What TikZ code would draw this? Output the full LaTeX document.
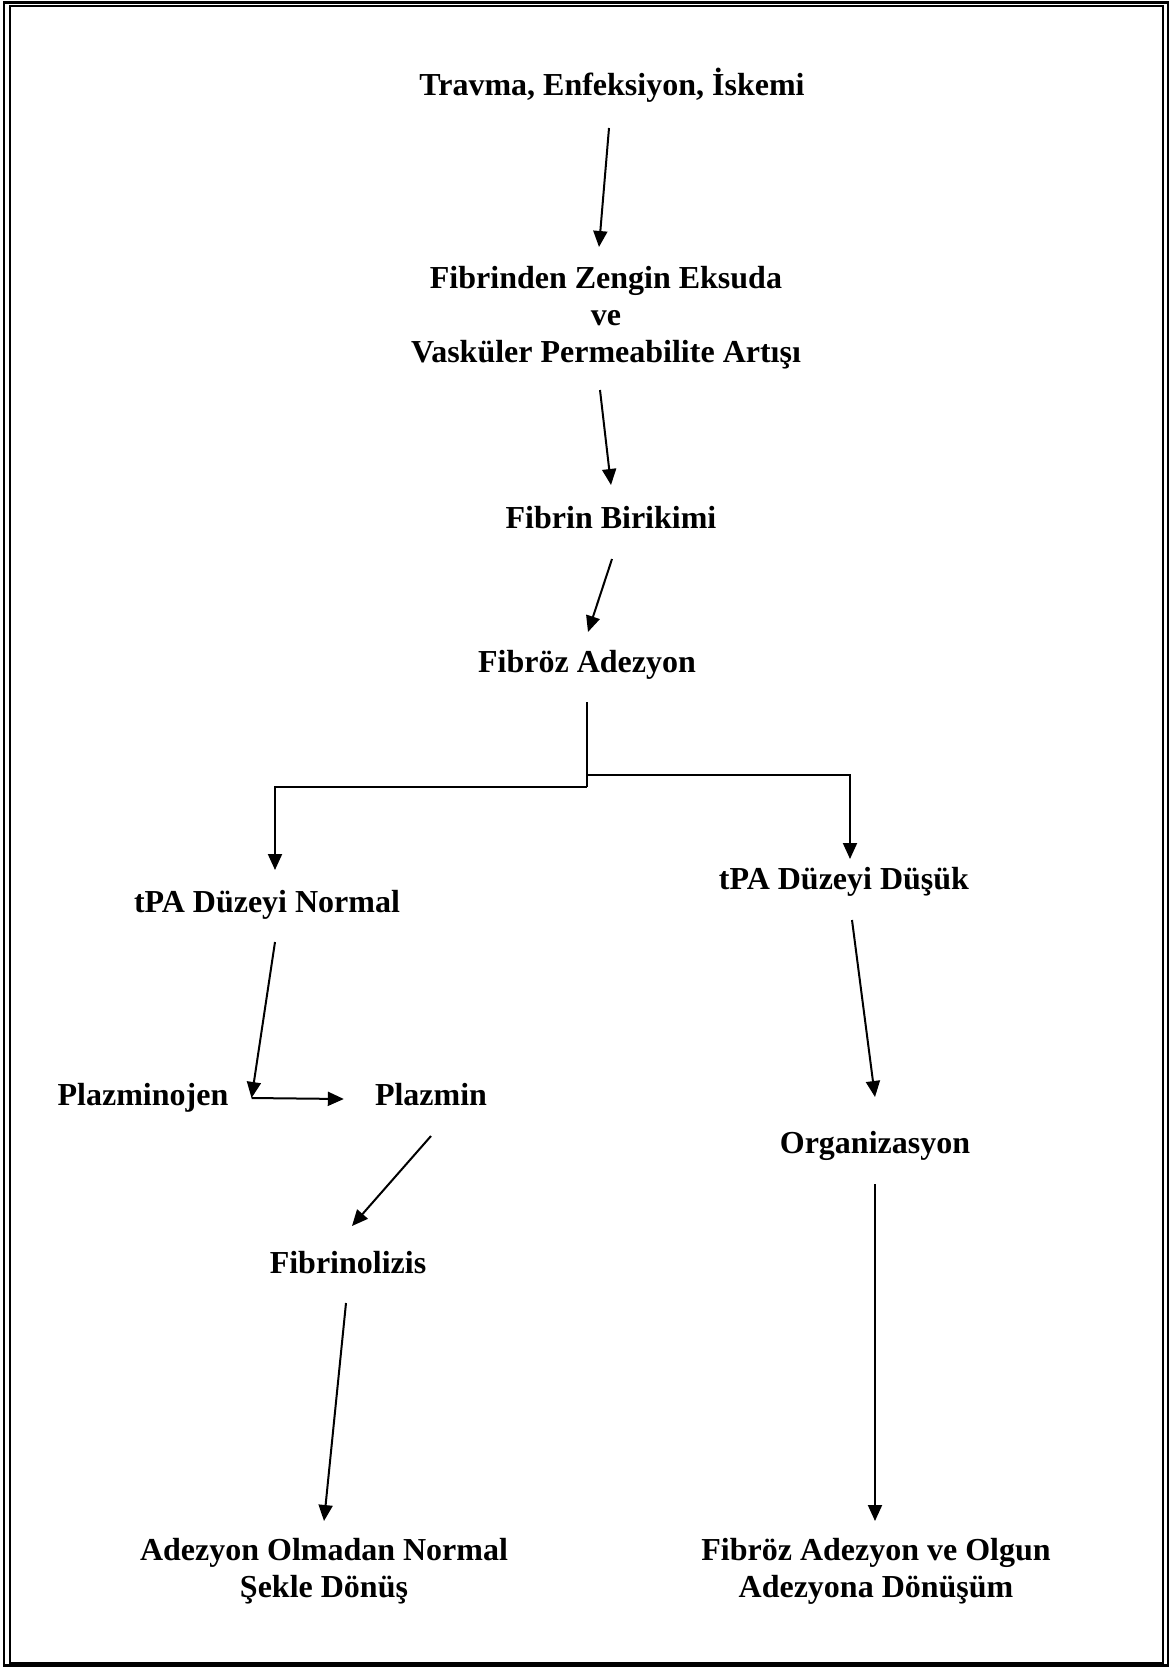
\documentclass[tikz,border=0pt]{standalone}
\usepackage{fontspec}
\setmainfont{Liberation Serif}
\usetikzlibrary{arrows.meta,calc}
\tikzset{
  lbl/.style={inner sep=0pt,align=center,anchor=base,
              font=\fontsize{32}{37}\selectfont\bfseries},
  flow/.style={-{Triangle[length=16pt,width=14pt]},line width=2pt},
  link/.style={line width=2pt},
}
\begin{document}
\begin{tikzpicture}[x=1pt,y=-1pt]
  \useasboundingbox (0,0) rectangle (1171,1667);
  % double frame
  \draw[line width=2.5pt] (4,2.5) rectangle (1168,1665.5);
  \draw[line width=2pt] (9.5,6) rectangle (1163,1662.5);
  % labels
  \node[lbl] (trauma) at (612,96) {Travma, Enfeksiyon, İskemi};
  \node[lbl] (fibex) at (606,362) {Fibrinden Zengin Eksuda\\ve\\Vasküler Permeabilite Artışı};
  \node[lbl] (birikim) at (611,528) {Fibrin Birikimi};
  \node[lbl] (adez) at (587,672) {Fibröz Adezyon};
  \node[lbl] (tpaN) at (267,912) {tPA Düzeyi Normal};
  \node[lbl] (tpaD) at (844,889) {tPA Düzeyi Düşük};
  \node[lbl] (pgen) at (143,1105) {Plazminojen};
  \node[lbl] (pmin) at (431,1105) {Plazmin};
  \node[lbl] (flysis) at (348,1273) {Fibrinolizis};
  \node[lbl] (org) at (875,1153) {Organizasyon};
  \node[lbl] (normal) at (324,1597) {Adezyon Olmadan Normal\\Şekle Dönüş};
  \node[lbl] (olgun) at (876,1597) {Fibröz Adezyon ve Olgun\\Adezyona Dönüşüm};
  % main chain
  \draw[flow] ($(trauma.base)+(-3,32)$) -- ($(fibex.base)+(-7,-115)$);
  \draw[flow] ($(fibex.base)+(-6,28)$) -- ($(birikim.base)+(0,-43)$);
  \draw[flow] ($(birikim.base)+(1,31)$) -- ($(adez.base)+(1,-40)$);
  % fork
  \coordinate (fork) at ($(adez.base)+(0,115)$);
  \draw[link] ($(adez.base)+(0,30)$) -- (fork);
  \draw[flow] (fork) -| ($(tpaN.base)+(8,-42)$);
  \draw[flow] ($(adez.base)+(0,103)$) -| ($(tpaD.base)+(6,-30)$);
  % left branch
  \coordinate (pj) at ($(pgen.base east)+(23,-7)$);
  \draw[flow] ($(tpaN.base)+(8,30)$) -- (pj);
  \draw[flow] (pj) -- ($(pmin.base west)+(-31,-6)$);
  \draw[flow] ($(pmin.base)+(0,31)$) -- ($(flysis.base)+(4,-47)$);
  \draw[flow] ($(flysis.base)+(-2,30)$) -- ($(normal.base)+(0,-76)$);
  % right branch
  \draw[flow] ($(tpaD.base)+(8,31)$) -- ($(org.base)+(0,-56)$);
  \draw[flow] ($(org.base)+(0,31)$) -- ($(olgun.base)+(-1,-76)$);
\end{tikzpicture}
\end{document}
